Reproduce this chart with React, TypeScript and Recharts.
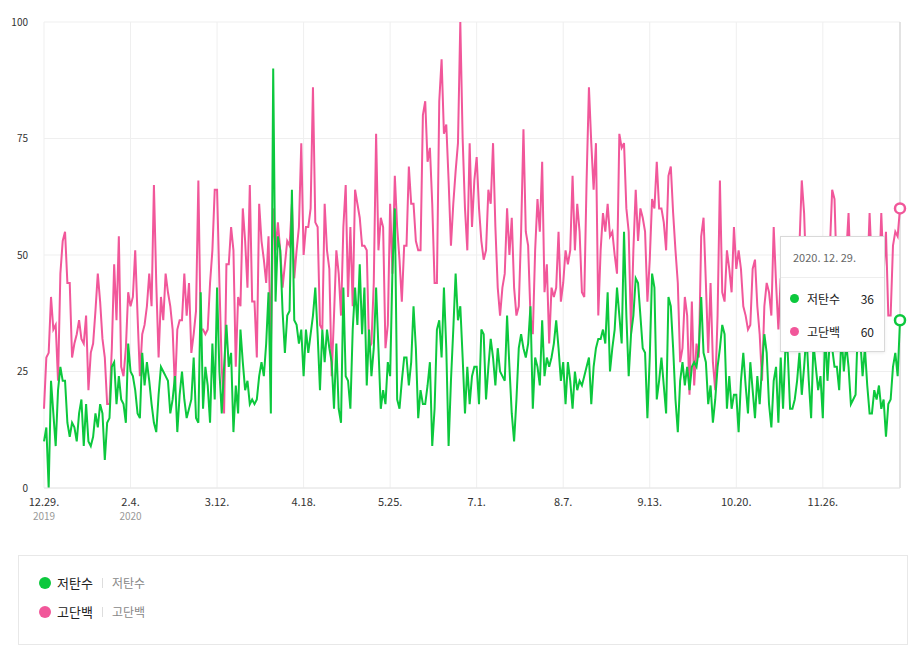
import React from "react";
import { LineChart, Line, XAxis, YAxis, CartesianGrid, ReferenceLine } from "recharts";

// daily values, 2019-12-29 .. 2020-12-29
const lowCarb = [
  10, 13, 0, 23, 16, 9, 21, 26, 23, 23, 14, 11, 14, 13, 10, 16, 19, 9, 18, 10, 9, 11, 16, 13, 18, 16, 6, 14, 15, 26, 27, 18, 24, 19, 18, 14, 31, 25, 24, 21, 16,
  15, 29, 22, 27, 23, 18, 14, 12, 20, 26, 25, 24, 23, 16, 19, 24, 12, 20, 25, 19, 15, 17, 19, 28, 15, 14, 42, 17, 26, 22, 14, 31, 19, 43, 25, 16, 26, 35, 26, 29, 12,
  22, 16, 34, 27, 21, 23, 18, 19, 18, 19, 24, 27, 24, 31, 42, 16, 90, 40, 54, 51, 38, 29, 37, 38, 64, 36, 35, 31, 34, 24, 34, 29, 33, 37, 43, 33, 21, 34, 27, 34, 30,
  27, 17, 31, 17, 14, 43, 24, 23, 17, 34, 43, 35, 48, 33, 43, 22, 34, 24, 30, 43, 30, 17, 21, 18, 27, 24, 47, 60, 19, 17, 23, 28, 28, 22, 27, 39, 30, 15, 21, 18,
  18, 22, 27, 9, 17, 34, 36, 28, 43, 30, 9, 23, 34, 46, 36, 39, 28, 16, 26, 18, 24, 26, 26, 18, 34, 33, 19, 26, 32, 28, 22, 30, 25, 24, 23, 37, 26, 16, 10, 19, 30,
  33, 30, 28, 31, 39, 17, 28, 26, 22, 36, 24, 28, 26, 28, 31, 36, 30, 23, 27, 18, 27, 23, 17, 25, 21, 23, 22, 24, 26, 28, 18, 26, 30, 32, 32, 34, 31, 42, 25, 30, 34,
  43, 37, 31, 55, 37, 24, 33, 37, 45, 44, 37, 30, 29, 15, 28, 46, 43, 19, 23, 28, 22, 16, 41, 39, 30, 19, 12, 23, 27, 22, 26, 21, 26, 27, 26, 30, 41, 29, 27, 18,
  22, 14, 19, 26, 30, 35, 33, 17, 24, 17, 20, 20, 12, 23, 29, 22, 16, 27, 21, 15, 24, 18, 26, 33, 29, 18, 13, 23, 26, 14, 28, 17, 30, 29, 17, 17, 19, 23, 29, 20, 26,
  33, 23, 15, 31, 26, 21, 24, 15, 34, 23, 32, 30, 26, 26, 21, 33, 25, 31, 26, 18, 19, 20, 35, 32, 24, 30, 22, 16, 16, 21, 19, 22, 17, 19, 11, 18, 19, 26, 29, 24, 36,
];

const highProtein = [
  17, 28, 29, 41, 34, 35, 23, 46, 53, 55, 44, 44, 28, 31, 33, 36, 32, 31, 37, 21, 29, 31, 38, 46, 40, 32, 28, 18, 18, 30, 48, 36, 54, 26, 24, 30, 42, 39, 41, 51, 37,
  24, 33, 35, 39, 46, 39, 65, 44, 28, 41, 36, 46, 42, 39, 34, 21, 34, 36, 36, 46, 37, 44, 29, 33, 38, 66, 34, 34, 33, 34, 44, 51, 64, 64, 44, 26, 16, 48, 48, 56, 51,
  26, 41, 39, 60, 53, 43, 65, 40, 40, 28, 61, 53, 49, 44, 54, 29, 60, 51, 57, 51, 43, 48, 53, 52, 61, 45, 51, 56, 74, 50, 56, 56, 60, 86, 57, 56, 35, 34, 61, 51, 47,
  24, 37, 51, 46, 37, 56, 65, 41, 56, 39, 64, 61, 58, 52, 52, 51, 30, 31, 44, 76, 51, 58, 56, 30, 35, 61, 46, 67, 56, 49, 40, 52, 52, 69, 61, 61, 53, 51, 51, 80,
  83, 70, 73, 61, 44, 44, 83, 92, 76, 78, 66, 52, 61, 68, 74, 100, 75, 60, 51, 74, 56, 66, 71, 60, 53, 49, 51, 64, 61, 74, 56, 43, 37, 43, 46, 60, 50, 58, 43, 37, 39,
  55, 77, 55, 52, 37, 33, 51, 62, 55, 70, 42, 48, 31, 43, 41, 43, 55, 40, 44, 51, 48, 51, 67, 51, 61, 55, 42, 41, 66, 86, 74, 64, 74, 37, 51, 59, 55, 61, 54, 55, 50,
  46, 76, 73, 74, 60, 55, 33, 51, 64, 53, 60, 58, 55, 40, 49, 62, 60, 70, 60, 60, 57, 51, 67, 69, 59, 51, 44, 27, 30, 41, 37, 20, 40, 22, 31, 28, 54, 58, 44, 29,
  44, 27, 21, 37, 66, 42, 40, 51, 47, 42, 56, 47, 51, 47, 39, 37, 34, 35, 47, 49, 39, 33, 23, 39, 44, 42, 37, 56, 44, 34, 45, 38, 48, 42, 35, 50, 40, 46, 52, 66, 59,
  44, 38, 47, 41, 50, 36, 45, 40, 48, 43, 51, 64, 62, 45, 39, 47, 42, 50, 59, 44, 38, 46, 41, 49, 43, 37, 45, 59, 47, 40, 48, 44, 59, 46, 55, 37, 37, 52, 55, 54, 60,
];

const seriesNames = ["저탄수", "고단백"];
const seriesColors = ["#0cc83d", "#f1579a"];

const tickDates = [
  "2019-12-29", "2020-02-04", "2020-03-12", "2020-04-18", "2020-05-25",
  "2020-07-01", "2020-08-07", "2020-09-13", "2020-10-20", "2020-11-26",
];
const tickLabels = ["12.29.", "2.4.", "3.12.", "4.18.", "5.25.", "7.1.", "8.7.", "9.13.", "10.20.", "11.26."];
const tickYears = ["2019", "2020", "", "", "", "", "", "", "", ""];
const yTicks = [0, 25, 50, 75, 100];

const tooltipDate = "2020. 12. 29.";

const font = "'Noto Sans CJK KR', 'Noto Sans', sans-serif";

const dates = lowCarb.map((_, i) =>
  new Date(Date.UTC(2019, 11, 29 + i)).toISOString().slice(0, 10)
);
const data = dates.map((date, i) => ({
  date,
  lowCarb: lowCarb[i],
  highProtein: highProtein[i],
}));
const lastIndex = data.length - 1;

function XTick(props: any) {
  const { x, y, payload } = props;
  const i = tickDates.indexOf(payload.value);
  if (i < 0) return <g />;
  return (
    <g>
      <text x={x} y={y + 18} textAnchor="middle" fontSize={11} fill="#333" fontFamily={font}>
        {tickLabels[i]}
      </text>
      {tickYears[i] ? (
        <text x={x} y={y + 32} textAnchor="middle" fontSize={10} fill="#999" fontFamily={font}>
          {tickYears[i]}
        </text>
      ) : null}
    </g>
  );
}

function endDot(color: string) {
  return (props: any) => {
    const { cx, cy, index } = props;
    if (index !== lastIndex) return <g key={`d${index}`} />;
    return (
      <circle key={`d${index}`} cx={cx} cy={cy} r={5} fill="#fff" stroke={color} strokeWidth={2.5} />
    );
  };
}

const dotStyle = (color: string, size: number) => ({
  display: "inline-block",
  width: size,
  height: size,
  borderRadius: "50%",
  background: color,
});

export default function App() {
  const values = [lowCarb[lastIndex], highProtein[lastIndex]];
  return (
    <div style={{ position: "absolute", left: 0, top: 0, width: 915, height: 648, background: "#fff", fontFamily: font }}>
      <LineChart width={915} height={530} data={data} margin={{ top: 22, right: 15, bottom: 0, left: 0 }}>
        <CartesianGrid stroke="#efefef" vertical={true} />
        <XAxis
          dataKey="date"
          ticks={tickDates}
          interval={0}
          height={42}
          tickSize={0}
          tickMargin={0}
          axisLine={{ stroke: "#e6e6e6" }}
          tickLine={false}
          tick={<XTick />}
        />
        <YAxis
          domain={[0, 100]}
          ticks={yTicks}
          width={44}
          tickSize={0}
          tickMargin={16}
          axisLine={false}
          tickLine={false}
          tick={{ fontSize: 10, fill: "#333", fontFamily: font }}
        />
        <ReferenceLine x={dates[lastIndex]} stroke="#cfcfcf" strokeWidth={1} />
        <Line
          type="linear"
          dataKey="highProtein"
          name={seriesNames[1]}
          stroke={seriesColors[1]}
          strokeWidth={2}
          dot={endDot(seriesColors[1])}
          activeDot={false}
          isAnimationActive={false}
        />
        <Line
          type="linear"
          dataKey="lowCarb"
          name={seriesNames[0]}
          stroke={seriesColors[0]}
          strokeWidth={2}
          dot={endDot(seriesColors[0])}
          activeDot={false}
          isAnimationActive={false}
        />
      </LineChart>

      {/* static tooltip for the last day */}
      <div
        style={{
          position: "absolute",
          left: 780,
          top: 236,
          width: 103,
          height: 114,
          background: "#fff",
          border: "1px solid #d9d9d9",
          boxShadow: "0 1px 3px rgba(0,0,0,0.08)",
        }}
      >
        <div style={{ height: 40, lineHeight: "40px", paddingLeft: 12, fontSize: 11, color: "#666", borderBottom: "1px solid #eee" }}>
          {tooltipDate}
        </div>
        <div style={{ paddingTop: 4 }}>
          {seriesNames.map((name, i) => (
            <div key={name} style={{ display: "flex", alignItems: "center", height: 33, paddingLeft: 9, paddingRight: 10, fontSize: 12, color: "#222" }}>
              <span style={dotStyle(seriesColors[i], 9)} />
              <span style={{ marginLeft: 8, flex: 1 }}>{name}</span>
              <span>{values[i]}</span>
            </div>
          ))}
        </div>
      </div>

      {/* legend */}
      <div
        style={{
          position: "absolute",
          left: 18,
          top: 555,
          width: 890,
          height: 90,
          border: "1px solid #e8e8e8",
          boxSizing: "border-box",
          paddingTop: 12,
          paddingLeft: 20,
        }}
      >
        {seriesNames.map((name) => {
          const i = seriesNames.indexOf(name);
          return (
            <div key={name} style={{ display: "flex", alignItems: "center", height: 29 }}>
              <span style={dotStyle(seriesColors[i], 12)} />
              <span style={{ marginLeft: 6, fontSize: 13, color: "#222" }}>{name}</span>
              <span style={{ marginLeft: 9, width: 1, height: 10, background: "#ddd" }} />
              <span style={{ marginLeft: 9, fontSize: 12, color: "#888" }}>{name}</span>
            </div>
          );
        })}
      </div>
    </div>
  );
}
